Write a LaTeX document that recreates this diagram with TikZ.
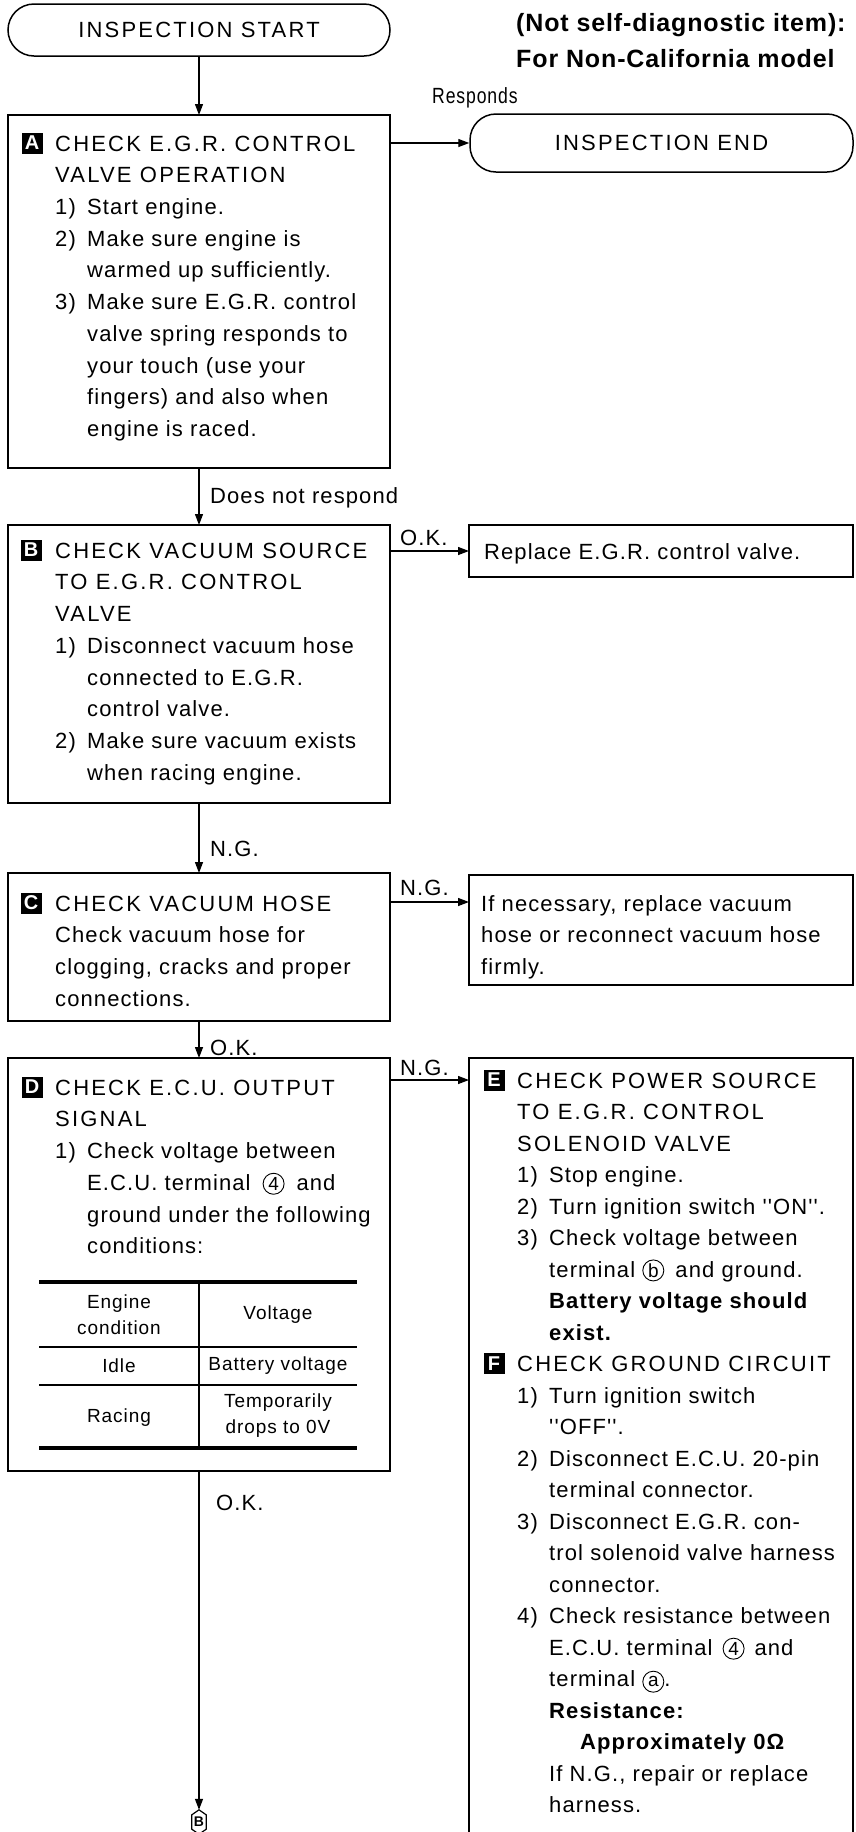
\documentclass[tikz,border=0pt]{standalone}
\usepackage{fontspec}
\setmainfont{Liberation Sans}
\newfontfamily\ttlfont[LetterSpace=10]{Liberation Sans}
\newfontfamily\bdyfont[LetterSpace=5]{Liberation Sans}
\newfontfamily\cndfont[FakeStretch=0.8,LetterSpace=4]{Liberation Sans}
\newfontfamily\hdrfont[LetterSpace=3.5]{Liberation Sans}
\usetikzlibrary{arrows.meta,calc}
\newcommand\itm[1]{\makebox[32pt][l]{#1}}
\newcommand\cnt{\hspace*{32pt}}
\newcommand\cnum[1]{\tikz[baseline=(cn.base)]\node[circle,draw,line width=0.9pt,inner sep=0pt,minimum size=21pt,font=\fontsize{19}{19}\selectfont](cn){#1};}
\begin{document}
\begin{tikzpicture}[x=1pt,y=-1pt,
  box/.style={draw,line width=1.5pt,inner sep=0pt,outer sep=0pt},
  term/.style={draw,line width=1.5pt,rounded corners=26pt,inner sep=0pt,font=\ttlfont\fontsize{22}{26}\selectfont},
  arr/.style={line width=1.3pt,-{Triangle[length=11pt,width=8pt]}},
  txt/.style={anchor=north west,align=left,inner sep=0pt,font=\bdyfont\fontsize{22}{31.7}\selectfont},
  lbl/.style={anchor=base west,inner sep=0pt,font=\bdyfont\fontsize{22}{26}\selectfont},
  badge/.style={fill=black,text=white,inner sep=0pt,minimum width=21pt,minimum height=21pt,font=\bfseries\fontsize{20}{20}\selectfont},
  cell/.style={inner sep=0pt,align=center,font=\bdyfont\fontsize{19}{26}\selectfont},
]
\useasboundingbox (0,0) rectangle (856,1832);
\clip (0,0) rectangle (856,1832);

% header
\node[anchor=base west,inner sep=0pt,font=\hdrfont\bfseries\fontsize{25}{30}\selectfont] (h1) at (516,31) {(Not self-diagnostic item):};
\node[anchor=base west,inner sep=0pt,font=\hdrfont\bfseries\fontsize{25}{30}\selectfont] (h2) at (516,67) {For Non-California model};

% terminals
\node[term,minimum width=382pt,minimum height=52pt] (S) at (199,30) {INSPECTION START};
\node[term,minimum width=383pt,minimum height=58pt] (End) at (661.5,143) {INSPECTION END};

% boxes
\node[box,minimum width=382pt,minimum height=353pt] (A) at (199,291.5) {};
\node[box,minimum width=382pt,minimum height=278pt] (B) at (199,664) {};
\node[box,minimum width=384pt,minimum height=52pt] (R) at (661,551) {};
\node[box,minimum width=382pt,minimum height=148pt] (C) at (199,947) {};
\node[box,minimum width=384pt,minimum height=110pt] (I) at (661,930) {};
\node[box,minimum width=382pt,minimum height=413pt] (D) at (199,1264.5) {};
\node[box,minimum width=384pt,minimum height=787pt] (E) at (661,1451.5) {};

% badges
\node[badge] (bA) at (32,143) {A};
\node[badge] (bB) at (31,550) {B};
\node[badge] (bC) at (31,903) {C};
\node[badge] (bD) at (32,1087) {D};
\node[badge] (bE) at (494,1080) {E};
\node[badge] (bF) at (494,1363.5) {F};

% texts
\node[txt] (At) at (55,128.8) {\strut{\ttlfont CHECK E.G.R. CONTROL}\\
{\ttlfont VALVE OPERATION}\\
\itm{1)}Start engine.\\
\itm{2)}Make sure engine is\\
\cnt warmed up sufficiently.\\
\itm{3)}Make sure E.G.R. control\\
\cnt valve spring responds to\\
\cnt your touch (use your\\
\cnt fingers) and also when\\
\cnt engine is raced.};

\node[txt] (Bt) at (55,535.8) {\strut{\ttlfont CHECK VACUUM SOURCE}\\
{\ttlfont TO E.G.R. CONTROL}\\
{\ttlfont VALVE}\\
\itm{1)}Disconnect vacuum hose\\
\cnt connected to E.G.R.\\
\cnt control valve.\\
\itm{2)}Make sure vacuum exists\\
\cnt when racing engine.};

\node[txt] (Rt) at (484,536.8) {\strut Replace E.G.R. control valve.};

\node[txt] (Ct) at (55,888.8) {\strut{\ttlfont CHECK VACUUM HOSE}\\
Check vacuum hose for\\
clogging, cracks and proper\\
connections.};

\node[txt] (It) at (481,888.8) {\strut If necessary, replace vacuum\\
hose or reconnect vacuum hose\\
firmly.};

\node[txt] (Dt) at (55,1072.8) {\strut{\ttlfont CHECK E.C.U. OUTPUT}\\
{\ttlfont SIGNAL}\\
\itm{1)}Check voltage between\\
\cnt E.C.U. terminal\hspace{12pt}\cnum{4}\hspace{12pt}and\\
\cnt ground under the following\\
\cnt conditions:};

\node[txt,font=\bdyfont\fontsize{22}{31.5}\selectfont] (Et) at (517,1065.95) {\strut{\ttlfont CHECK POWER SOURCE}\\
{\ttlfont TO E.G.R. CONTROL}\\
{\ttlfont SOLENOID VALVE}\\
\itm{1)}Stop engine.\\
\itm{2)}Turn ignition switch ''ON''.\\
\itm{3)}Check voltage between\\
\cnt terminal \cnum{b}\hspace{4pt} and ground.\\
\cnt\textbf{Battery voltage should}\\
\cnt\textbf{exist.}\\
{\ttlfont CHECK GROUND CIRCUIT}\\
\itm{1)}Turn ignition switch\\
\cnt''OFF''.\\
\itm{2)}Disconnect E.C.U. 20-pin\\
\cnt terminal connector.\\
\itm{3)}Disconnect E.G.R. con-\\
\cnt trol solenoid valve harness\\
\cnt connector.\\
\itm{4)}Check resistance between\\
\cnt E.C.U. terminal\hspace{10pt}\cnum{4}\hspace{10pt}and\\
\cnt terminal \cnum{a}.\\
\cnt\textbf{Resistance:}\\
\cnt\hspace*{31pt}\textbf{Approximately 0Ω}\\
\cnt If N.G., repair or replace\\
\cnt harness.};

% table
\draw[line width=4pt] (39,1282) -- (357,1282);
\draw[line width=1.3pt] (39,1347) -- (357,1347);
\draw[line width=1.3pt] (39,1385) -- (357,1385);
\draw[line width=4pt] (39,1448) -- (357,1448);
\draw[line width=1.3pt] (199,1282) -- (199,1448);
\node[cell] (t11) at (119,1315) {Engine\\condition};
\node[cell] (t12) at (278,1315) {Voltage};
\node[cell] (t21) at (119,1366) {Idle};
\node[cell] (t22) at (278,1366) {Battery voltage};
\node[cell] (t31) at (119,1418) {Racing};
\node[cell] (t32) at (278,1416) {Temporarily\\drops to 0V};

% off-page connector
\node[inner sep=0pt,minimum width=14pt,minimum height=24pt,font=\bfseries\fontsize{14}{14}\selectfont] (BC) at (199,1822) {B};
\draw[line width=1.2pt] (BC.north) -- ([yshift=-5pt]BC.north east) -- ([yshift=5pt]BC.south east) -- (BC.south) -- ([yshift=5pt]BC.south west) -- ([yshift=-5pt]BC.north west) -- cycle;

% labels
\node[lbl,font=\cndfont\fontsize{22}{26}\selectfont] (lresp) at (432,103) {Responds};
\node[lbl] (ldnr) at (210,503) {Does not respond};
\node[lbl] (lok1) at (400,545) {O.K.};
\node[lbl] (lng1) at (210,856) {N.G.};
\node[lbl] (lng2) at (400,895) {N.G.};
\node[lbl] (lok2) at (210,1055) {O.K.};
\node[lbl] (lng3) at (400,1075) {N.G.};
\node[lbl] (lok3) at (216,1510) {O.K.};

% connectors
\draw[arr] (S.south) -- (A.north);
\draw[arr] (A.east |- End.west) -- (End.west);
\draw[arr] (A.south) -- (B.north);
\draw[arr] (B.east |- R.west) -- (R.west);
\draw[arr] (B.south) -- (C.north);
\draw[arr] ([yshift=-29pt]C.north east) coordinate (cng) -- (cng -| I.west);
\draw[arr] (C.south) -- (D.north);
\draw[arr] ([yshift=-22pt]D.north east) coordinate (dng) -- (dng -| E.west);
\draw[arr] (D.south) -- (BC.north);
\end{tikzpicture}
\end{document}
